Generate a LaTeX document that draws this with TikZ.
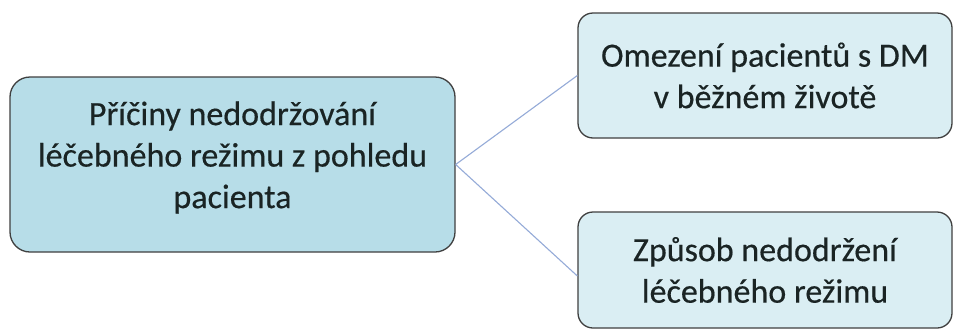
\documentclass[tikz,border=0pt]{standalone}
\usepackage{fontspec}
\setmainfont{Carlito}[FakeBold=0.4]
\begin{document}
\begin{tikzpicture}[x=1pt,y=-1pt,
  boxtext/.style={align=center, inner sep=0pt, text=textcol, font=\fontsize{34}{41.5}\selectfont},
  mainbox/.style={draw=black!75, line width=1.3pt, fill=mainfill, rounded corners=20pt, minimum width=445pt, minimum height=175pt, inner sep=0pt},
  subbox/.style={draw=black!75, line width=1.3pt, fill=subfill, rounded corners=15pt, minimum width=374pt, inner sep=0pt},
  link/.style={draw=linkcol, line width=1.1pt}]
\definecolor{mainfill}{HTML}{B7DDE8}
\definecolor{subfill}{HTML}{DAEEF3}
\definecolor{linkcol}{HTML}{95ABD8}
\definecolor{textcol}{HTML}{1A2424}
\useasboundingbox (0,0) rectangle (954,330);
\fill[white] (0,0) rectangle (954,330);
\node[mainbox] (root) at (232.5,164.5) {};
\node[boxtext] (roottext) at ([yshift=7pt]root.center) {Příčiny nedodržování\\léčebného režimu z pohledu\\pacienta};
\node[subbox, minimum height=125pt] (top) at (765,75.5) {};
\node[boxtext] (toptext) at (top.center) {Omezení pacientů s DM\\v běžném životě};
\node[subbox, minimum height=116pt] (bot) at (765,270) {};
\node[boxtext] (bottext) at (bot.center) {Způsob nedodržení\\léčebného režimu};
\draw[link] (root.east) -- (top.west);
\draw[link] (root.east) -- ([yshift=-6pt]bot.west);
\end{tikzpicture}
\end{document}
